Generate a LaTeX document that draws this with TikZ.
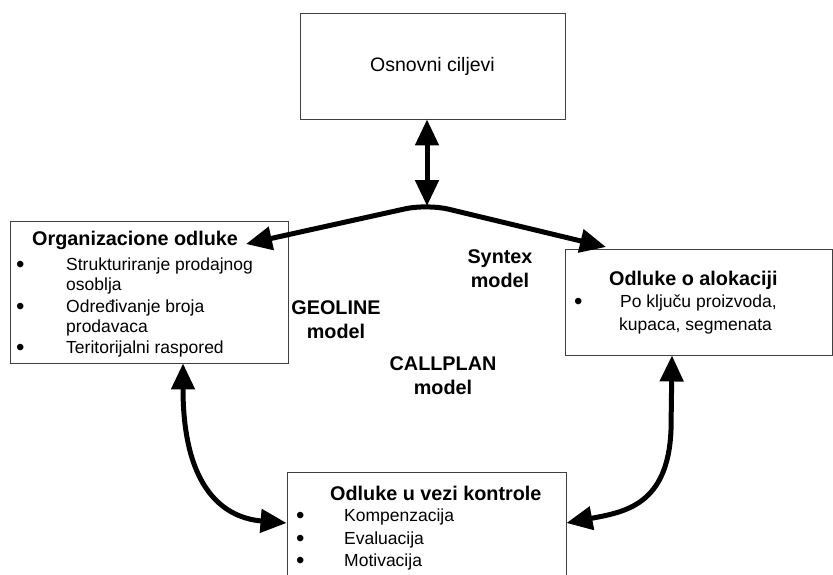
\documentclass[tikz,border=0pt]{standalone}
\usepackage{fontspec}
\setmainfont{Liberation Sans}
\usetikzlibrary{arrows.meta}
\begin{document}
\begin{tikzpicture}[x=1pt,y=-1pt,
  box/.style={draw=black!75,line width=0.9pt,fill=white,inner sep=0pt},
  reg/.style={font=\fontsize{17.5}{20}\selectfont,inner sep=0pt,anchor=base west},
  hd/.style={font=\fontsize{19.8}{22}\bfseries\selectfont,inner sep=0pt,anchor=base west},
  lbl/.style={font=\fontsize{19.8}{24}\bfseries\selectfont,inner sep=0pt,align=center},
  bul/.style={font=\fontsize{24}{20}\selectfont,inner sep=0pt,anchor=base west},
  tip/.style={Triangle[length=26pt,width=23pt]},
  conn/.style={line width=5pt,{Triangle[length=26pt,width=23pt]}-{Triangle[length=26pt,width=23pt]}}]
\useasboundingbox (0,0) rectangle (833,574);
% boxes
\node[box,minimum width=265pt,minimum height=106pt] (top) at (432.5,66) {};
\node[box,minimum width=278pt,minimum height=142pt] (left) at (149,292) {};
\node[box,minimum width=267pt,minimum height=106pt] (right) at (698.5,302) {};
\node[box,minimum width=279pt,minimum height=120pt] (bot) at (426.5,532) {};
% texts
\node[font=\fontsize{19.5}{22}\selectfont,inner sep=0pt] (tt) at (top.center) {Osnovni ciljevi};
\node[hd] (lh) at (32,245) {Organizacione odluke};
\node[bul] (lb1) at (16,272) {•};
\node[reg] (l1) at (66,270) {Strukturiranje prodajnog};
\node[reg] (l1b) at (66,290) {osoblja};
\node[bul] (lb2) at (16,314) {•};
\node[reg] (l2) at (66,312) {Određivanje broja};
\node[reg] (l2b) at (66,332) {prodavaca};
\node[bul] (lb3) at (16,355) {•};
\node[reg] (l3) at (66,353) {Teritorijalni raspored};
\node[hd] (rh) at (609,285) {Odluke o alokaciji};
\node[bul] (rb1) at (574,309) {•};
\node[reg] (r1) at (620,307) {Po ključu proizvoda,};
\node[reg] (r1b) at (619,330) {kupaca, segmenata};
\node[hd] (bh) at (330,500) {Odluke u vezi kontrole};
\node[bul] (bb1) at (296,523) {•};
\node[reg] (b1) at (344,521) {Kompenzacija};
\node[bul] (bb2) at (296,546) {•};
\node[reg] (b2) at (344,544) {Evaluacija};
\node[bul] (bb3) at (296,568) {•};
\node[reg] (b3) at (344,566) {Motivacija};
\node[lbl] (geo) at (336,320) {GEOLINE\\model};
\node[lbl] (syn) at (500,269) {Syntex\\model};
\node[lbl] (cal) at (443,376) {CALLPLAN\\model};
% connectors
\coordinate (peak) at (427,204);
\coordinate (ltip) at (246,244);
\coordinate (rtip) at (606,247);
\draw[conn] (top.south -| peak) -- ([yshift=-2pt]peak);
\draw[conn,rounded corners=22pt] (ltip) -- (peak) -- (rtip);
\draw[conn] (left.south -| 183,0) .. controls (183,490) and (225,518) .. (bot.west |- 0,523);
\draw[conn] (right.south -| 672,0) -- (671,430) .. controls (668,505) and (625,512) .. (bot.east |- 0,523);
\end{tikzpicture}
\end{document}
